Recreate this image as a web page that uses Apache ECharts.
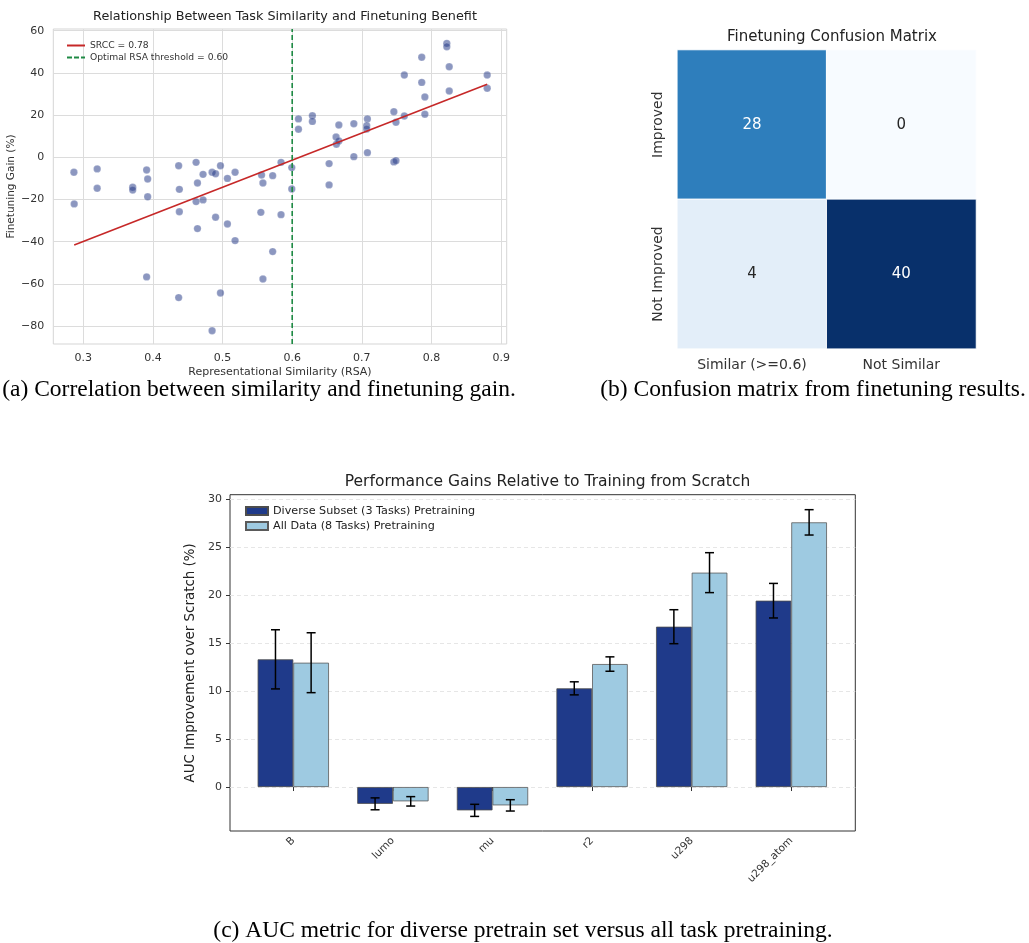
<!DOCTYPE html>
<html><head><meta charset="utf-8">
<script src="https://cdn.jsdelivr.net/npm/echarts@6/dist/echarts.min.js"></script>
<style>html,body{margin:0;padding:0;background:#fff}#c{width:1029px;height:943px}</style>
</head><body><div id="c"></div>
<script>
// ---------- (a) scatter ----------
const scatterX = [0.2866,0.287,0.320,0.320,0.371,0.371,0.391,0.3925,0.3925,0.391,0.437,0.438,0.438,0.437,0.462,0.464,0.462,0.464,0.472,0.472,0.485,0.485,0.490,0.490,0.497,0.497,0.507,0.507,0.518,0.518,0.556,0.558,0.555,0.558,0.572,0.572,0.584,0.584,0.5994,0.5994,
  0.609,0.609,0.629,0.629,0.653,0.653,0.663,0.6635,0.667,0.667,0.6885,0.6885,0.708,0.707,0.707,0.708,0.746,0.749,0.746,0.749,0.761,0.761,0.786,0.786,0.7905,0.7905,0.822,0.822,0.8255,0.8255,0.880,0.880];
const scatterY = [-7.1,-22.1,-5.5,-14.7,-14.2,-15.5,-6.0,-10.3,-18.7,-56.7,-4.0,-15.2,-25.8,-66.5,-2.4,-12.2,-21.0,-33.8,-8.1,-20.2,-7.1,-82.2,-7.8,-28.4,-4.0,-64.3,-10.0,-31.6,-7.1,-39.5,-8.4,-12.2,-26.1,-57.7,-8.7,-44.7,-2.4,-27.2,-4.9,-15.0,
  18.2,13.3,19.7,17.0,-3.0,-13.1,9.6,6.2,7.7,15.3,15.9,0.3,18.2,15.0,13.4,2.2,21.6,16.6,-2.2,-1.6,19.6,39.0,47.4,35.5,28.6,20.4,54.0,52.4,42.9,31.4,39.0,32.7];
const regX = [0.287, 0.880];
const regY = [-41.6, 34.6];
const threshold = 0.6;
const scatterXTicks = [0.3,0.4,0.5,0.6,0.7,0.8,0.9];
const scatterYTicks = [-80,-60,-40,-20,0,20,40,60];
const scatterXRange = [0.257, 0.908];
const scatterYRange = [-88.5, 60.8];
// ---------- (b) confusion matrix ----------
const cmRows = ['Improved','Not Improved'];
const cmCols = ['Similar (>=0.6)','Not Similar'];
const cmValues = [[28,0],[4,40]];
// ---------- (c) bars ----------
const barCats = ['B','lumo','mu','r2','u298','u298_atom'];
const diverseMean = [13.3,-1.75,-2.43,10.28,16.7,19.41];
const diverseErr  = [3.08,0.62,0.63,0.68,1.77,1.8];
const allMean     = [12.95,-1.49,-1.91,12.81,22.33,27.57];
const allErr      = [3.12,0.49,0.59,0.75,2.08,1.32];
const barYTicks = [0,5,10,15,20,25,30];
const barYRange = [-4.58, 30.45];

const BLUES = ['#f7fbff','#deebf7','#c6dbef','#9ecae1','#6baed6','#4292c6','#2171b5','#08519c','#08306b'];
const FONT = 'DejaVu Sans';
const SERIF = '"Liberation Serif"';
const RED = '#c62828', GREEN = '#1e8a44';
const minus = v => String(v).replace('-', '\u2212');

const chart = echarts.init(document.getElementById('c'));

const cmData = [];
cmRows.forEach((r, ri) => cmCols.forEach((c, ci) => cmData.push([ci, ri, cmValues[ri][ci]])));

function errRender(offsetFrac) {
  return function (params, api) {
    const i = api.value(0);
    const lo = api.coord([i, api.value(1)]);
    const hi = api.coord([i, api.value(2)]);
    const band = api.size([1, 0])[0];
    const x = lo[0] + band * offsetFrac;
    const cap = 4.5;
    const style = { stroke: '#000', lineWidth: 1.5 };
    return { type: 'group', children: [
      { type: 'line', shape: { x1: x, y1: lo[1], x2: x, y2: hi[1] }, style },
      { type: 'line', shape: { x1: x - cap, y1: lo[1], x2: x + cap, y2: lo[1] }, style },
      { type: 'line', shape: { x1: x - cap, y1: hi[1], x2: x + cap, y2: hi[1] }, style }
    ]};
  };
}

const option = {
  animation: false,
  textStyle: { fontFamily: FONT },
  title: [
    { text: 'Relationship Between Task Similarity and Finetuning Benefit', left: 280, top: 5.5, textAlign: 'center',
      textStyle: { fontFamily: FONT, fontSize: 12.8, fontWeight: 'normal', color: '#222' } },
    { text: 'Finetuning Confusion Matrix', left: 827, top: 25, textAlign: 'center',
      textStyle: { fontFamily: FONT, fontSize: 15, fontWeight: 'normal', color: '#222' } },
    { text: 'Performance Gains Relative to Training from Scratch', left: 542.5, top: 468.5, textAlign: 'center',
      textStyle: { fontFamily: FONT, fontSize: 15.5, fontWeight: 'normal', color: '#222' } }
  ],
  legend: [
    { left: 62, top: 36, orient: 'vertical', itemWidth: 18, itemHeight: 2, itemGap: 3,
      data: [
        { name: 'SRCC = 0.78', icon: 'rect', itemStyle: { color: RED } },
        { name: 'Optimal RSA threshold = 0.60', icon: 'path://M0,0h5v2h-5z M7,0h5v2h-5z M14,0h4v2h-4z', itemStyle: { color: GREEN } }
      ],
      textStyle: { fontFamily: FONT, fontSize: 9.2, color: '#333' } },
    { left: 240, top: 500.5, orient: 'vertical', itemWidth: 22, itemHeight: 8, itemGap: 4,
      data: [
        { name: 'Diverse Subset (3 Tasks) Pretraining', icon: 'rect' },
        { name: 'All Data (8 Tasks) Pretraining', icon: 'rect' }
      ],
      textStyle: { fontFamily: FONT, fontSize: 11.2, color: '#222' } }
  ],
  visualMap: { show: false, seriesIndex: 3, min: 0, max: 40, inRange: { color: BLUES } },
  grid: [
    { left: 53.3, top: 29, width: 453.4, height: 315, show: true, borderColor: '#d5d5d5', borderWidth: 1 },
    { left: 677.3, top: 50, width: 298.7, height: 298.7 },
    { left: 230, top: 494.7, width: 625.3, height: 336.3, show: true, borderColor: '#333', borderWidth: 1 },
    { left: 243.5, top: 494.7, width: 597.6, height: 336.3 }
  ],
  xAxis: [
    { type: 'value', gridIndex: 0, min: scatterXRange[0], max: scatterXRange[1],
      name: 'Representational Similarity (RSA)', nameLocation: 'middle', nameGap: 23,
      nameTextStyle: { fontFamily: FONT, fontSize: 11, color: '#333' },
      axisLine: { show: false }, axisTick: { show: false, customValues: scatterXTicks },
      axisLabel: { customValues: scatterXTicks, fontSize: 11, color: '#333', margin: 9, formatter: v => v.toFixed(1) },
      splitLine: { show: true, lineStyle: { color: '#dcdcdc', width: 1 } } },
    { type: 'category', gridIndex: 1, data: cmCols, axisLine: { show: false }, axisTick: { show: false },
      axisLabel: { fontSize: 14, color: '#333', margin: 10 }, splitLine: { show: false } },
    { type: 'value', gridIndex: 2, min: 0, max: 1, show: false },
    { type: 'category', gridIndex: 3, data: barCats, axisLine: { show: false },
      axisTick: { show: true, alignWithLabel: true, length: 4, lineStyle: { color: '#333' } },
      axisLabel: { rotate: 45, fontSize: 10.5, color: '#333', margin: 8 } }
  ],
  yAxis: [
    { type: 'value', gridIndex: 0, min: scatterYRange[0], max: scatterYRange[1],
      name: 'Finetuning Gain (%)', nameLocation: 'middle', nameGap: 36,
      nameTextStyle: { fontFamily: FONT, fontSize: 10.5, color: '#333' },
      axisLine: { show: false }, axisTick: { show: false, customValues: scatterYTicks },
      axisLabel: { customValues: scatterYTicks, fontSize: 11, color: '#333', margin: 9, formatter: v => minus(v) },
      splitLine: { show: true, lineStyle: { color: '#dcdcdc', width: 1 } } },
    { type: 'category', gridIndex: 1, data: cmRows, inverse: true, axisLine: { show: false }, axisTick: { show: false },
      axisLabel: { rotate: 90, fontSize: 14, color: '#333', margin: 12 }, splitLine: { show: false } },
    { type: 'value', gridIndex: 2, min: barYRange[0], max: barYRange[1],
      name: 'AUC Improvement over Scratch (%)', nameLocation: 'middle', nameGap: 26,
      nameTextStyle: { fontFamily: FONT, fontSize: 13.4, color: '#222' },
      axisLine: { show: false },
      axisTick: { show: true, length: 4, customValues: barYTicks, lineStyle: { color: '#333' } },
      axisLabel: { customValues: barYTicks, fontSize: 11, color: '#333', margin: 8 },
      splitLine: { show: true, lineStyle: { color: '#e6e6e6', type: [4, 3], width: 1 } } },
    { type: 'value', gridIndex: 3, min: barYRange[0], max: barYRange[1], show: false, splitLine: { show: false } }
  ],
  series: [
    { type: 'scatter', name: 'points', xAxisIndex: 0, yAxisIndex: 0, symbolSize: 7.4,
      itemStyle: { color: 'rgba(36,58,135,0.66)', borderColor: 'rgba(255,255,255,0.5)', borderWidth: 0.5 },
      data: scatterX.map((x, i) => [x, scatterY[i]]), z: 3 },
    { type: 'line', name: 'SRCC = 0.78', xAxisIndex: 0, yAxisIndex: 0, symbol: 'none',
      lineStyle: { color: RED, width: 1.6 }, itemStyle: { color: RED },
      data: regX.map((x, i) => [x, regY[i]]), z: 4 },
    { type: 'line', name: 'Optimal RSA threshold = 0.60', xAxisIndex: 0, yAxisIndex: 0, symbol: 'none',
      lineStyle: { color: GREEN, width: 1.6, type: [5, 3] }, itemStyle: { color: GREEN },
      data: [[threshold, scatterYRange[0]], [threshold, scatterYRange[1]]], z: 4 },
    { type: 'heatmap', xAxisIndex: 1, yAxisIndex: 1, data: cmData,
      itemStyle: { borderColor: '#fff', borderWidth: 1 },
      label: { show: true, formatter: p => (p.value[2] > 20 ? '{w|' : '{d|') + p.value[2] + '}',
        rich: { w: { color: '#fff', fontSize: 15, fontFamily: FONT }, d: { color: '#262626', fontSize: 15, fontFamily: FONT } } } },
    { type: 'bar', name: 'Diverse Subset (3 Tasks) Pretraining', xAxisIndex: 3, yAxisIndex: 3,
      barWidth: '35.8%', barGap: '0%', data: diverseMean,
      itemStyle: { color: '#1f3a8a', borderColor: '#4d4d4d', borderWidth: 0.8 } },
    { type: 'bar', name: 'All Data (8 Tasks) Pretraining', xAxisIndex: 3, yAxisIndex: 3,
      barWidth: '35.8%', barGap: '0%', data: allMean,
      itemStyle: { color: '#9ecae1', borderColor: '#5a5a5a', borderWidth: 0.8 } },
    { type: 'custom', name: 'errDiverse', xAxisIndex: 3, yAxisIndex: 3, renderItem: errRender(-0.179), z: 5,
      data: diverseMean.map((m, i) => [i, m - diverseErr[i], m + diverseErr[i]]) },
    { type: 'custom', name: 'errAll', xAxisIndex: 3, yAxisIndex: 3, renderItem: errRender(0.179), z: 5,
      data: allMean.map((m, i) => [i, m - allErr[i], m + allErr[i]]) }
  ],
  graphic: [
    { type: 'text', x: 259, y: 390, style: { text: '(a) Correlation between similarity and finetuning gain.',
      font: '23.5px ' + SERIF, fill: '#000', textAlign: 'center', textVerticalAlign: 'middle' } },
    { type: 'text', x: 813, y: 390, style: { text: '(b) Confusion matrix from finetuning results.',
      font: '23.5px ' + SERIF, fill: '#000', textAlign: 'center', textVerticalAlign: 'middle' } },
    { type: 'text', x: 523, y: 931, style: { text: '(c) AUC metric for diverse pretrain set versus all task pretraining.',
      font: '23.5px ' + SERIF, fill: '#000', textAlign: 'center', textVerticalAlign: 'middle' } }
  ]
};
chart.setOption(option);
</script>
</body></html>
